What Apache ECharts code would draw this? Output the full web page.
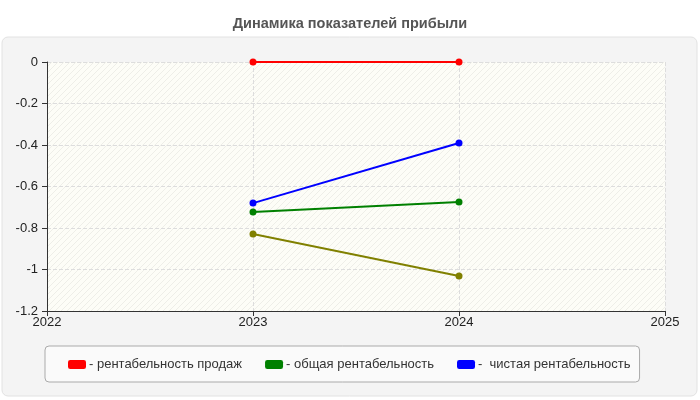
<!DOCTYPE html>
<html>
<head>
<meta charset="utf-8">
<script src="https://cdn.jsdelivr.net/npm/echarts@6/dist/echarts.min.js"></script>
<style>
  html, body { margin: 0; padding: 0; background: #fff; }
  #chart { width: 700px; height: 400px; }
</style>
</head>
<body>
<div id="chart"></div>
<script>
const years = [2023, 2024];
const salesMargin = [0, 0];
const totalMargin = [-0.723, -0.675];
const netMargin = [-0.68, -0.39];
const otherMargin = [-0.829, -1.031];

const seriesNames = ["- рентабельность продаж", "- общая рентабельность", "-  чистая рентабельность", "прочее"];

const makeHatch = () => {
    const c = document.createElement("canvas");
    c.width = 6;
    c.height = 6;
    const ctx = c.getContext("2d");
    ctx.fillStyle = "#fdfdf7";
    ctx.fillRect(0, 0, 6, 6);
    ctx.strokeStyle = "#eeeee8";
    ctx.lineWidth = 1;
    ctx.beginPath();
    ctx.moveTo(0, 6);
    ctx.lineTo(6, 0);
    ctx.moveTo(-1, 1);
    ctx.lineTo(1, -1);
    ctx.moveTo(5, 7);
    ctx.lineTo(7, 5);
    ctx.stroke();
    return c;
};

const pairs = (vals) => years.map((y, i) => [y, vals[i]]);

const lineSeries = (name, vals, color) => ({
    name: name,
    type: "line",
    data: pairs(vals),
    symbol: "circle",
    symbolSize: 7,
    itemStyle: { color: color },
    lineStyle: { color: color, width: 2 }
});

const getOption = () => {
    return {
        backgroundColor: "#fff",
        animation: false,
        title: {
            text: "Динамика показателей прибыли",
            left: "center",
            top: 11,
            textStyle: { fontFamily: "Arial", fontSize: 14.5, fontWeight: "bold", color: "#555" }
        },
        graphic: [
            {
                type: "rect",
                z: -10,
                shape: { x: 2, y: 37, width: 695, height: 359, r: 6 },
                style: { fill: "#f4f4f4", stroke: "#e2e2e2", lineWidth: 1 }
            }
        ],
        legend: {
            data: seriesNames.slice(0, 3),
            left: 45,
            top: 346,
            width: 595,
            height: 37,
            padding: [12, 9, 11, 23],
            itemGap: 23,
            itemWidth: 18,
            itemHeight: 9,
            icon: "roundRect",
            backgroundColor: "#fafafa",
            borderColor: "#aaa",
            borderWidth: 1,
            borderRadius: 4,
            textStyle: { fontFamily: "Arial", fontSize: 13, color: "#333", padding: [0, 0, 0, -2] }
        },
        grid: {
            left: 47,
            right: 35,
            top: 62,
            bottom: 89,
            show: true,
            borderWidth: 0,
            backgroundColor: { image: makeHatch(), repeat: "repeat" }
        },
        xAxis: {
            type: "value",
            min: 2022,
            max: 2025,
            interval: 1,
            axisLine: { show: true, onZero: false, lineStyle: { color: "#333" } },
            axisTick: { show: true, length: 5, lineStyle: { color: "#333" } },
            axisLabel: { fontFamily: "Arial", fontSize: 13, color: "#222", margin: 5, formatter: (v) => String(v) },
            splitLine: { show: true, lineStyle: { type: "dashed", color: "#ddd" } }
        },
        yAxis: {
            type: "value",
            min: -1.2,
            max: 0,
            interval: 0.2,
            axisLine: { show: true, onZero: false, lineStyle: { color: "#333" } },
            axisTick: { show: true, length: 5, lineStyle: { color: "#333" } },
            axisLabel: {
                fontFamily: "Arial",
                fontSize: 13,
                color: "#222",
                margin: 9,
                formatter: (v) => String(Math.round(v * 10) / 10)
            },
            splitLine: { show: true, lineStyle: { type: "dashed", color: "#ddd" } }
        },
        series: [
            lineSeries(seriesNames[0], salesMargin, "#ff0000"),
            lineSeries(seriesNames[1], totalMargin, "#008000"),
            lineSeries(seriesNames[2], netMargin, "#0000ff"),
            lineSeries(seriesNames[3], otherMargin, "#808000")
        ]
    };
};

window.addEventListener("load", () => {
    const chart = echarts.init(document.getElementById("chart"));
    chart.setOption(getOption());
});
</script>
</body>
</html>
